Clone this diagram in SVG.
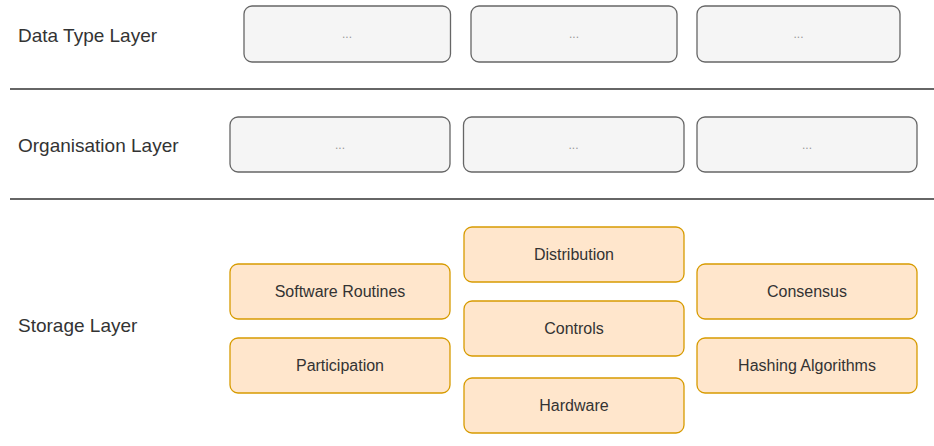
<svg xmlns="http://www.w3.org/2000/svg" width="934" height="446" viewBox="0 0 934 446">
<style>
.bg{fill:#ffffff}
.lbl{font-family:"Liberation Sans",Arial,sans-serif;font-size:19px;fill:#333333}
.g rect{fill:#f5f5f5;stroke:#666666;stroke-width:1.3}
.o rect{fill:#ffe6cc;stroke:#d79b00;stroke-width:1.3}
.g text{font-family:"Liberation Sans",Arial,sans-serif;font-size:12px;fill:#999999;text-anchor:middle;dominant-baseline:central}
.o text{font-family:"Liberation Sans",Arial,sans-serif;font-size:16px;fill:#333333;text-anchor:middle;dominant-baseline:central}
.sep{stroke:#333333;stroke-width:1.5}
</style>
<rect class="bg" x="0" y="0" width="934" height="446"/>
<g id="separators">
<line class="sep" x1="10" y1="89" x2="934" y2="89"/>
<line class="sep" x1="10" y1="199" x2="934" y2="199"/>
</g>
<g id="labels">
<text class="lbl" x="18" y="41.5">Data Type Layer</text>
<text class="lbl" x="18" y="151.5">Organisation Layer</text>
<text class="lbl" x="18" y="331.5">Storage Layer</text>
</g>
<g id="dt1" class="g"><rect x="244" y="6" width="206.5" height="56" rx="8"/><text x="347" y="34">...</text></g>
<g id="dt2" class="g"><rect x="471" y="6" width="206" height="56" rx="8"/><text x="574" y="34">...</text></g>
<g id="dt3" class="g"><rect x="697" y="6" width="203" height="56" rx="8"/><text x="798.5" y="34">...</text></g>
<g id="org1" class="g"><rect x="230" y="117" width="220" height="55" rx="8"/><text x="340" y="144.5">...</text></g>
<g id="org2" class="g"><rect x="463.5" y="117" width="220.5" height="55" rx="8"/><text x="573.5" y="144.5">...</text></g>
<g id="org3" class="g"><rect x="697" y="117" width="220" height="55" rx="8"/><text x="807" y="144.5">...</text></g>
<g id="software" class="o"><rect x="230" y="264" width="220" height="55" rx="8"/><text x="340" y="291.5">Software Routines</text></g>
<g id="participation" class="o"><rect x="230" y="338" width="220" height="55" rx="8"/><text x="340" y="365.5">Participation</text></g>
<g id="distribution" class="o"><rect x="464" y="227" width="220" height="55" rx="8"/><text x="574" y="254.5">Distribution</text></g>
<g id="controls" class="o"><rect x="464" y="301" width="220" height="55" rx="8"/><text x="574" y="328.5">Controls</text></g>
<g id="hardware" class="o"><rect x="464" y="378" width="220" height="55" rx="8"/><text x="574" y="405.5">Hardware</text></g>
<g id="consensus" class="o"><rect x="697" y="264" width="220" height="55" rx="8"/><text x="807" y="291.5">Consensus</text></g>
<g id="hashing" class="o"><rect x="697" y="338" width="220" height="55" rx="8"/><text x="807" y="365.5">Hashing Algorithms</text></g>
<g id="connectors"></g>
</svg>
